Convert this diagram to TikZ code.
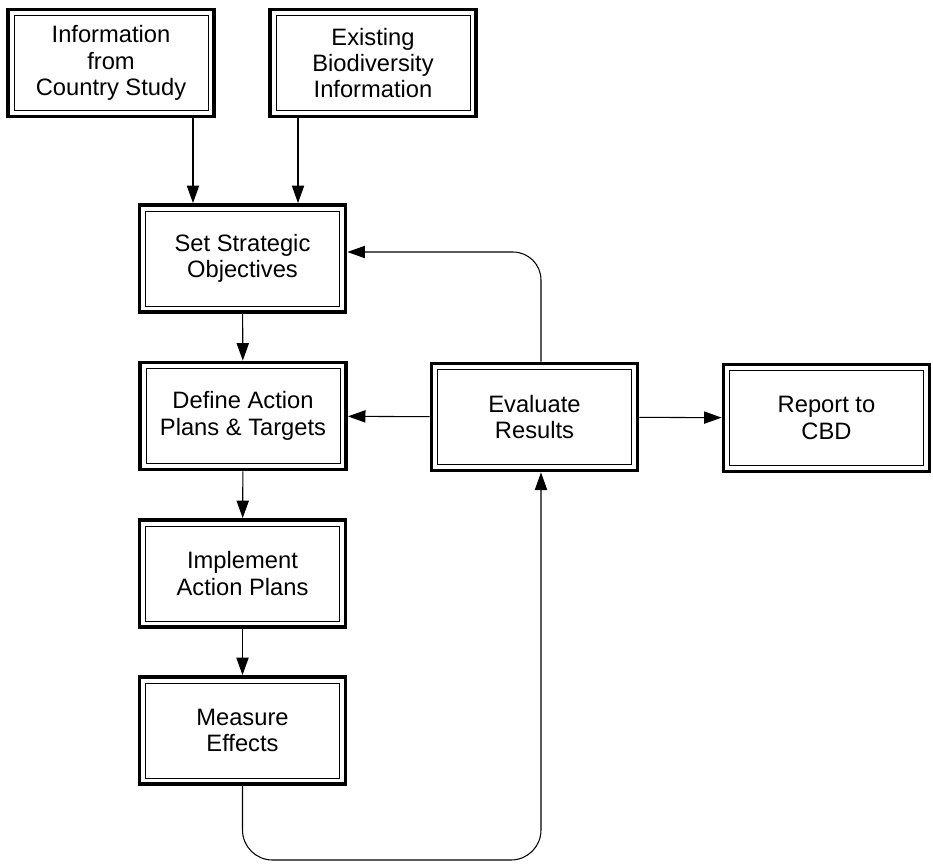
\documentclass[tikz,border=0pt]{standalone}
\usepackage{fontspec}
\setmainfont{Liberation Sans}
\usetikzlibrary{arrows.meta, positioning, calc}

\tikzset{
  stagebox/.style={draw, line width=2.2pt, minimum width=4.12cm, minimum height=2.14cm,
    inner sep=0pt, align=center, font=\fontsize{13.5}{15}\selectfont,
    path picture={\draw[line width=0.5pt]
      ([shift={(0.12cm,0.12cm)}]path picture bounding box.south west) rectangle
      ([shift={(-0.12cm,-0.12cm)}]path picture bounding box.north east);}},
  flow/.style={-{Triangle[length=10pt,width=7pt]}, line width=0.6pt}
}

\begin{document}
\begin{tikzpicture}[x=0.02cm, y=-0.02cm]
    \useasboundingbox (0,0) rectangle (933,863);

    % inputs
    \node[stagebox] (info) at (111,63) {Information\\from\\Country Study};
    \node[stagebox] (exist) at (373,63) {Existing\\Biodiversity\\Information};

    % main column
    \node[stagebox] (setobj) at (242.5,258.5) {Set Strategic\\Objectives};
    \node[stagebox] (define) at (243,416) {Define Action\\Plans \& Targets};
    \node[stagebox] (implement) at (242.5,573.5) {Implement\\Action Plans};
    \node[stagebox] (measure) at (242.5,730.5) {Measure\\Effects};

    % evaluation and reporting
    \node[stagebox] (evaluate) at (534.5,417) {Evaluate\\Results};
    \node[stagebox] (report) at (826.5,418) {Report to\\CBD};

    \coordinate (loopbot) at (400,860);

    \draw[flow] ([xshift=1.64cm]info.south) -- ([xshift=1.64cm]info.south |- setobj.north);
    \draw[flow] ([xshift=-1.5cm]exist.south) -- ([xshift=-1.5cm]exist.south |- setobj.north);
    \draw[flow] (setobj) -- (define);
    \draw[flow] (define) -- (implement);
    \draw[flow] (implement) -- (measure);
    \draw[flow] (evaluate) -- (define);
    \draw[flow] (evaluate) -- (report);

    % feedback loops
    \draw[flow, rounded corners=0.56cm] ([xshift=0.13cm]evaluate.north) |- ([yshift=0.13cm]setobj.east);
    \draw[flow, rounded corners=0.6cm] (measure.south) |- (loopbot) -| ([xshift=0.13cm]evaluate.south);
\end{tikzpicture}
\end{document}
